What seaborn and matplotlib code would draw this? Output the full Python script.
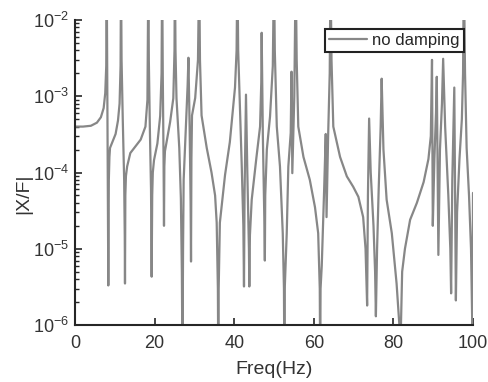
import matplotlib
matplotlib.use("Agg")
import matplotlib.pyplot as plt
import seaborn as sns
import pandas as pd

# Frequency (Hz) and |X/F| (no damping FRF)
freq_hz = [
    0.0, 2.0, 4.0, 5.5, 6.5, 7.2, 7.6, 7.85, 7.96,
    8.1, 8.25, 8.37, 8.5, 8.65, 8.8, 9.5, 10.2, 10.8, 11.2, 11.45, 11.56,
    11.7, 12.0, 12.35, 12.5, 12.56, 12.65, 12.8, 13.1, 13.9, 15.2, 16.5, 17.7, 18.2, 18.43,
    18.55, 18.8, 19.1, 19.26, 19.4, 19.55, 19.85, 20.7, 21.4, 21.75, 21.9,
    22.05, 22.25, 22.36, 22.45, 22.6, 23.0, 23.9, 24.7, 25.0, 25.1,
    25.25, 25.5, 26.2, 26.6, 26.85, 27.0, 27.15, 27.3, 27.9, 28.3, 28.5,
    28.8, 29.05, 29.15, 29.25, 29.4, 30.2, 30.9, 31.2,
    31.4, 31.8, 33.1, 34.3, 35.2, 35.6, 35.9, 36.0, 36.1, 36.4, 37.7, 38.9, 40.2, 40.6, 40.8,
    41.0, 41.9, 42.3, 42.46, 42.6, 42.96, 43.3, 43.7, 43.8, 43.95, 44.4, 45.6, 46.5, 46.8, 46.9,
    47.2, 47.6, 47.7, 47.8, 48.2, 49.0, 49.7, 50.0,
    50.2, 50.7, 51.5, 52.2, 52.5, 52.6, 52.7, 53.2, 53.6, 54.2, 54.4, 54.6, 55.1, 55.45,
    55.7, 56.1, 57.4, 59.0, 60.3, 61.1, 61.5, 61.6, 61.7, 62.0, 62.6, 63.0, 63.2, 63.6, 64.0, 64.2,
    64.45, 64.9, 66.6, 68.3, 69.9, 71.2, 72.4, 73.0, 73.4, 73.6, 73.9,
    74.3, 75.0, 75.4, 75.6, 75.9, 76.3, 76.8, 77.05,
    77.5, 78.3, 79.6, 80.8, 81.5, 81.7, 81.9, 82.2, 82.9, 84.2, 85.9, 87.6, 88.8, 89.4, 89.7,
    89.9, 90.3, 90.7, 90.9, 91.3, 91.7, 92.2, 92.5, 93.0, 93.8, 94.3, 94.5, 94.8, 95.1, 95.3, 95.7,
    96.0, 96.6, 97.2, 97.5, 97.7, 98.0, 98.4, 99.0, 99.5, 99.85, 100.0,
]
x_over_f = [
    4.0e-4, 4.0e-4, 4.1e-4, 4.5e-4, 5.3e-4, 7.0e-4, 1.1e-3, 2.5e-3, 5e-2,
    2e-3, 1e-4, 3.3e-6, 8e-5, 1.6e-4, 2.1e-4, 2.6e-4, 3.2e-4, 4.8e-4, 8e-4, 2.5e-3, 5e-2,
    3e-3, 5e-4, 8e-5, 1.5e-5, 3.5e-6, 5e-5, 9e-5, 1.2e-4, 1.8e-4, 2.2e-4, 2.7e-4, 4e-4, 9e-4, 5e-2,
    3e-3, 4e-4, 6e-5, 4.3e-6, 5e-5, 1.0e-4, 1.45e-4, 2.4e-4, 5.5e-4, 2e-3, 5e-2,
    2e-3, 1.5e-4, 2e-5, 1.2e-4, 1.9e-4, 2.5e-4, 4.6e-4, 9.4e-4, 4e-3, 5e-2,
    4e-3, 9.4e-4, 2.1e-4, 4.6e-5, 5e-6, 3e-7, 1e-5, 8e-5, 4.6e-4, 1.4e-3, 3.2e-3,
    4e-4, 4e-5, 6.8e-6, 1.5e-4, 5.6e-4, 9.5e-4, 3e-3, 5e-2,
    3e-3, 5.6e-4, 2.1e-4, 1.0e-4, 5e-5, 2.2e-5, 3e-6, 3e-7, 3e-6, 2.2e-5, 9.3e-5, 2.5e-4, 1.3e-3, 4e-3, 5e-2,
    4e-3, 1.2e-4, 2e-5, 3.2e-6, 5e-5, 1.05e-3, 1e-4, 1e-5, 3.2e-6, 1.5e-5, 4.4e-5, 1.6e-4, 4e-4, 1.5e-3, 6.8e-3,
    3e-4, 2e-5, 7e-6, 5e-5, 2e-4, 5.4e-4, 2.5e-3, 5e-2,
    4e-3, 4e-4, 1.2e-4, 1.6e-5, 3e-6, 3e-7, 3e-6, 1.6e-5, 1.2e-4, 3.3e-4, 2.1e-3, 9.8e-5, 1e-3, 5e-2,
    3e-3, 4e-4, 1.6e-4, 8e-5, 3.5e-5, 1.6e-5, 3e-6, 3e-7, 3e-6, 6e-6, 6e-5, 3.2e-4, 2.6e-5, 3e-4, 2e-3, 5e-2,
    3e-3, 4e-4, 1.6e-4, 8.9e-5, 6.5e-5, 4.8e-5, 2.6e-5, 1e-5, 1.8e-6, 5e-5, 5.1e-4,
    1e-4, 2e-5, 5e-6, 1.3e-6, 1e-5, 6e-5, 4e-4, 1.7e-3,
    2e-4, 4.4e-5, 1.6e-5, 3.5e-6, 1e-6, 3e-7, 1e-6, 5e-6, 1e-5, 2.4e-5, 4e-5, 7.5e-5, 1.5e-4, 3e-4, 3e-3,
    2e-5, 1.5e-4, 6e-4, 1.8e-3, 8.3e-6, 2e-4, 8e-4, 3.1e-3, 4e-4, 5e-5, 1e-5, 2.6e-6, 8e-5, 4e-4, 1.3e-3, 2.1e-6,
    3e-5, 1.5e-4, 5e-4, 2e-3, 5e-2, 2e-3, 2.1e-4, 5e-5, 1e-5, 8e-7, 5.4e-5,
]
x_ticks = [0, 20, 40, 60, 80, 100]
series_label = "no damping"

df = pd.DataFrame({"freq": freq_hz, "mag": x_over_f})

sns.set_style("ticks")
plt.rcParams["font.family"] = ["Liberation Sans", "DejaVu Sans"]
plt.rcParams["mathtext.fontset"] = "custom"
plt.rcParams["mathtext.rm"] = "Liberation Sans"
plt.rcParams["mathtext.it"] = "Liberation Sans:italic"
plt.rcParams["mathtext.bf"] = "Liberation Sans:bold"

fig = plt.figure(figsize=(4.89, 3.82), dpi=100)
ax = fig.add_axes([75 / 489, 1 - 325 / 382, 398 / 489, 305 / 382])

sns.lineplot(data=df, x="freq", y="mag", ax=ax, color="#878787",
             linewidth=1.6, estimator=None, sort=False, label=series_label)

ax.set_yscale("log")
ax.set_ylim(1e-6, 1e-2)
ax.set_xlim(0, 100)
ax.set_xticks(x_ticks)
ax.set_xticklabels([str(t) for t in x_ticks])

for s in ["top", "right"]:
    ax.spines[s].set_visible(False)
for s in ["left", "bottom"]:
    ax.spines[s].set_color("#262626")
    ax.spines[s].set_linewidth(1.5)

ax.tick_params(which="major", direction="in", length=5, width=1.2,
               colors="#262626", labelsize=13, labelcolor="#333333")
ax.tick_params(which="minor", direction="in", length=3, width=1.0, colors="#262626")
ax.tick_params(axis="x", which="minor", bottom=False)
ax.tick_params(axis="x", which="major", pad=7)
ax.tick_params(axis="y", which="major", pad=4)

ax.set_xlabel("Freq(Hz)", fontsize=14, color="#333333", labelpad=7)
ax.set_ylabel("|X/F|", fontsize=14, color="#333333")
ax.yaxis.set_label_coords(-0.108, 0.43)

leg = ax.legend(loc="upper right", bbox_to_anchor=(0.977, 0.97), borderaxespad=0,
                fontsize=12, frameon=True, fancybox=False, framealpha=1,
                edgecolor="#222222", handlelength=2.3, handletextpad=0.3,
                borderpad=0.25)
leg.get_frame().set_linewidth(1.5)

fig.savefig("out.png", dpi=100)
